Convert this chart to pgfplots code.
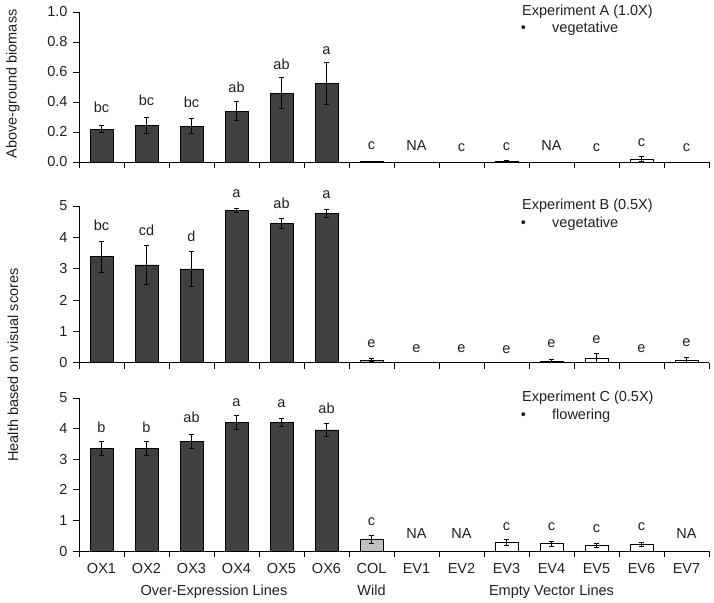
\documentclass[border=0pt]{standalone}
\usepackage{pgfplots}
\pgfplotsset{compat=1.18}
\usepackage{fontspec}
\setmainfont{Liberation Sans}
\newcommand\lab{\fontsize{14.5bp}{17bp}\selectfont}
\definecolor{darkbar}{HTML}{404040}
\definecolor{greybar}{HTML}{C0C0C0}
\definecolor{txt}{HTML}{202020}

\pgfplotsset{
  panel/.style={
    scale only axis, width=630bp, anchor=south west,
    xmin=-0.5, xmax=13.5, ymin=0, clip=false,
    axis x line*=bottom, axis y line*=left,
    axis line style={black, line width=0.8bp},
    tick style={black, line width=0.8bp},
    tick align=outside,
    major tick length=6bp, minor tick length=6bp,
    xtick={0,...,13}, xticklabels={},
    major x tick style={draw=none},
    minor xtick={-0.5,0.5,...,13.5},
    tick label style={font=\lab, text=txt},
    /pgf/number format/assume math mode=true,
    yticklabel style={xshift=-2bp},
  },
  errs/.style={
    error bars/y dir=both, error bars/y explicit,
    error bars/error bar style={black, line width=0.8bp},
    error bars/error mark options={rotate=90, mark size=2.8bp, black, line width=0.8bp}},
  darkbars/.style={ybar, bar width=23bp, bar shift=0pt, fill=darkbar, draw=black, line width=0.6bp, errs},
  greybars/.style={ybar, bar width=23bp, bar shift=0pt, fill=greybar, draw=black, line width=0.6bp, errs},
  whitebars/.style={ybar, bar width=23bp, bar shift=0pt, fill=white, draw=black, line width=0.6bp, errs},
  labs/.style={draw=none, mark=none, nodes near coords, point meta=explicit symbolic,
    nodes near coords style={anchor=center, font=\lab, text=txt, inner sep=0pt}},
}

\begin{document}
\begin{tikzpicture}
\path[use as bounding box] (0,0) rectangle (714bp,-603bp);

% ---------------- Panel A
\begin{axis}[panel, at={(79bp,-162bp)}, height=150bp, ymax=1,
  ytick={0,0.2,0.4,0.6,0.8,1},
  yticklabel style={/pgf/number format/.cd, fixed, fixed zerofill, precision=1}]
\addplot[darkbars] table[x=x, y=y, y error plus=e, y error minus=e] {
x y e
0 0.220 0.025
1 0.245 0.055
2 0.240 0.048
3 0.340 0.065
4 0.460 0.105
5 0.525 0.140
};
\addplot[darkbars] table[x=x, y=y, y error plus=e, y error minus=e] {
x y e
6 0.005 0
};
\addplot[whitebars] table[x=x, y=y, y error plus=ep, y error minus=em] {
x y ep em
9 0.008 0.003 0.003
12 0.020 0.020 0.015
};
\addplot[labs] table[x=x, y=y, meta=l] {
x y l
0 0.365 bc
1 0.410 bc
2 0.400 bc
3 0.500 ab
4 0.650 ab
5 0.745 a
6 0.106 c
7 0.107 NA
8 0.098 c
9 0.100 c
10 0.107 NA
11 0.093 c
12 0.129 c
13 0.098 c
};
\end{axis}

% ---------------- Panel B
\begin{axis}[panel, at={(79bp,-362.7bp)}, height=156.7bp, ymax=5,
  ytick={0,...,5}]
\addplot[darkbars] table[x=x, y=y, y error plus=e, y error minus=e] {
x y e
0 3.38 0.49
1 3.12 0.61
2 2.99 0.57
3 4.85 0.07
4 4.45 0.15
5 4.77 0.13
};
\addplot[greybars] table[x=x, y=y, y error plus=ep, y error minus=em] {
x y ep em
6 0.085 0.055 0.055
};
\addplot[whitebars] table[x=x, y=y, y error plus=ep, y error minus=em] {
x y ep em
10 0.05 0.07 0.05
11 0.14 0.16 0.14
13 0.085 0.08 0.085
};
\addplot[labs] table[x=x, y=y, meta=l] {
x y l
0 4.39 bc
1 4.21 cd
2 4.02 d
3 5.40 a
4 5.10 ab
5 5.35 a
6 0.62 e
7 0.46 e
8 0.46 e
9 0.43 e
10 0.62 e
11 0.74 e
12 0.46 e
13 0.64 e
};
\end{axis}

% ---------------- Panel C
\begin{axis}[panel, at={(79bp,-551bp)}, height=153bp, ymax=5,
  ytick={0,...,5},
  xticklabels={OX1,OX2,OX3,OX4,OX5,OX6,COL,EV1,EV2,EV3,EV4,EV5,EV6,EV7},
  xticklabel style={yshift=-3bp}]
\addplot[darkbars] table[x=x, y=y, y error plus=e, y error minus=e] {
x y e
0 3.35 0.22
1 3.35 0.24
2 3.58 0.23
3 4.20 0.24
4 4.20 0.14
5 3.96 0.21
};
\addplot[greybars] table[x=x, y=y, y error plus=e, y error minus=e] {
x y e
6 0.38 0.12
};
\addplot[whitebars] table[x=x, y=y, y error plus=e, y error minus=e] {
x y e
9 0.27 0.10
10 0.24 0.09
11 0.19 0.07
12 0.22 0.07
};
\addplot[labs] table[x=x, y=y, meta=l] {
x y l
0 4.05 b
1 4.05 b
2 4.38 ab
3 4.86 a
4 4.81 a
5 4.67 ab
6 0.96 c
7 0.56 NA
8 0.56 NA
9 0.80 c
10 0.80 c
11 0.74 c
12 0.80 c
13 0.56 NA
};
\end{axis}

% ---------------- Annotations
\begin{scope}[every node/.style={font=\lab, text=txt, inner sep=0pt}]
\node[anchor=base west] at (522bp,-15bp) {Experiment A (1.0X)};
\node[anchor=base] at (523.5bp,-32bp) {•};
\node[anchor=base west] at (552bp,-32bp) {vegetative};
\node[anchor=base west] at (522bp,-209bp) {Experiment B (0.5X)};
\node[anchor=base] at (523.5bp,-227.5bp) {•};
\node[anchor=base west] at (552bp,-227.5bp) {vegetative};
\node[anchor=base west] at (522bp,-401.5bp) {Experiment C (0.5X)};
\node[anchor=base] at (523.5bp,-419bp) {•};
\node[anchor=base west] at (552bp,-419bp) {flowering};
\node[rotate=90] at (13bp,-84bp) {Above-ground biomass};
\node[rotate=90] at (13bp,-365bp) {Health based on visual scores};
\node[anchor=base] at (214bp,-595bp) {Over-Expression Lines};
\node[anchor=base] at (371.5bp,-595bp) {Wild};
\node[anchor=base] at (551.5bp,-595bp) {Empty Vector Lines};
\end{scope}
\end{tikzpicture}
\end{document}
